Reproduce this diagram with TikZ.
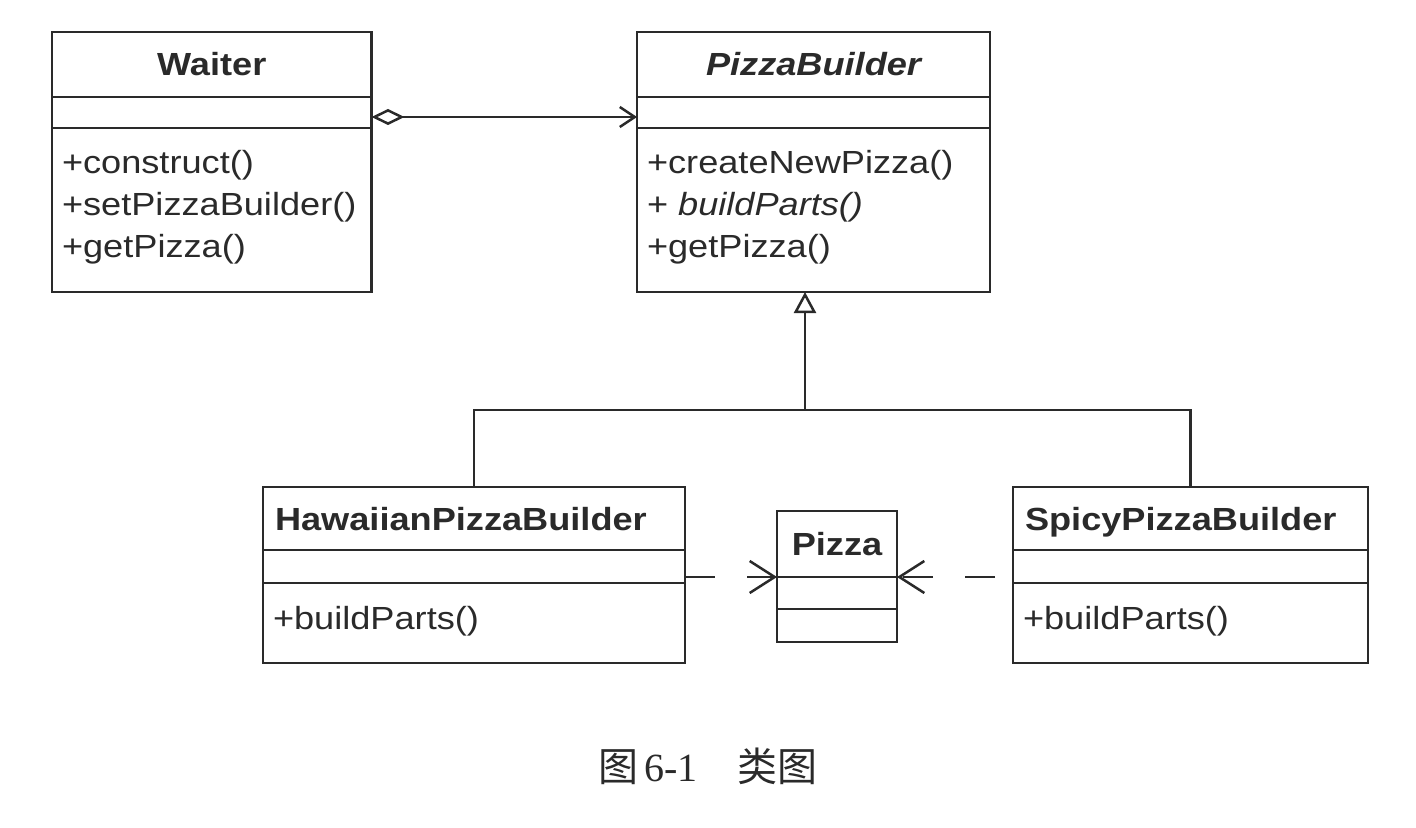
\documentclass[tikz,border=0pt]{standalone}
\usepackage{fontspec}
\setmainfont[FakeStretch=1.13]{Liberation Sans}
\newfontfamily\cjk{Noto Sans CJK SC}
\newfontfamily\capserif{Liberation Serif}
\usetikzlibrary{positioning,arrows.meta}
\definecolor{ink}{HTML}{2A2A2A}
\newcommand{\umlsize}{\fontsize{16pt}{21pt}\selectfont}
\newcommand{\opsbox}[3]{\parbox[c][#1][t]{#2}{\raggedright\baselineskip=21pt\rule{0pt}{23pt}#3\par}}

\begin{document}
\begin{tikzpicture}[x=0.5pt,y=-0.5pt,
  cls/.style={draw=ink,text=ink,line width=1.25pt,fill=white,inner sep=0pt,outer sep=0pt},
  nm/.style={cls,font=\umlsize\bfseries,text height=11.5pt,text depth=0pt,minimum height=32.5pt},
  att/.style={cls,minimum height=15.5pt},
  ops/.style={cls,font=\umlsize,inner xsep=5pt},
  ln/.style={draw=ink,line width=1.25pt},
  dep/.style={ln,dash pattern=on 15pt off 16pt,-{Straight Barb[length=12.5pt,width=16pt]}}]
\useasboundingbox (0,0) rectangle (1416,828);
% top row
\node[nm,minimum width=159.75pt](waiter) at (211.75,64.5){Waiter};
\node[att,minimum width=159.75pt,below=0pt of waiter](waiterA){};
\node[ops,below=0pt of waiterA](waiterO){\opsbox{82pt}{149.75pt}{+construct()\\+setPizzaBuilder()\\+getPizza()}};
\node[nm,minimum width=176.5pt](pb) at (813.5,64.5){\itshape PizzaBuilder};
\node[att,minimum width=176.5pt,below=0pt of pb](pbA){};
\node[ops,below=0pt of pbA](pbO){\opsbox{82pt}{166.5pt}{+createNewPizza()\\+ \textit{buildParts()}\\+getPizza()}};
% bottom row
\node[nm,text width=199pt,inner xsep=6pt,align=left,minimum height=31.5pt](hw) at (474,518.5){HawaiianPizzaBuilder};
\node[att,minimum width=211pt,minimum height=16.5pt,below=0pt of hw](hwA){};
\node[ops,below=0pt of hwA](hwO){\opsbox{40pt}{201pt}{+buildParts()}};
\node[nm,minimum width=60pt,minimum height=33pt](pizza) at (837,544){Pizza};
\node[att,minimum width=60pt,minimum height=16pt,below=0pt of pizza](pizzaA){};
\node[att,minimum width=60pt,minimum height=16.5pt,below=0pt of pizzaA](pizzaO){};
\node[nm,text width=165.5pt,inner xsep=6pt,align=left,minimum height=31.5pt](sp) at (1190.5,518.5){SpicyPizzaBuilder};
\node[att,minimum width=177.5pt,minimum height=16.5pt,below=0pt of sp](spA){};
\node[ops,below=0pt of spA](spO){\opsbox{40pt}{167.5pt}{+buildParts()}};
% links
\draw[ln,{Diamond[open,length=16.5pt,width=8pt]}-{Straight Barb[length=7.5pt,width=10pt]}]
  ([yshift=-2.25pt]waiterA.east)--([yshift=-2.25pt]pbA.west);
\coordinate (join) at (805,410);
\draw[ln](hw.north)|-(join)-|(sp.north);
\draw[ln,-{Triangle[open,length=10.5pt,width=11pt]}](join)--(join|-pbO.south);
\draw[dep](pizza.south west-|hwA.east)--(pizza.south west);
\draw[dep,dash phase=22pt](pizza.south east-|spA.west)--(pizza.south east);
% caption
\node[font=\fontsize{20pt}{24pt}\selectfont,text=ink](cap) at (708,766){{\cjk 图}\hspace{3pt}{\capserif 6-1}\hspace{20pt}{\cjk 类图}};
\end{tikzpicture}
\end{document}
